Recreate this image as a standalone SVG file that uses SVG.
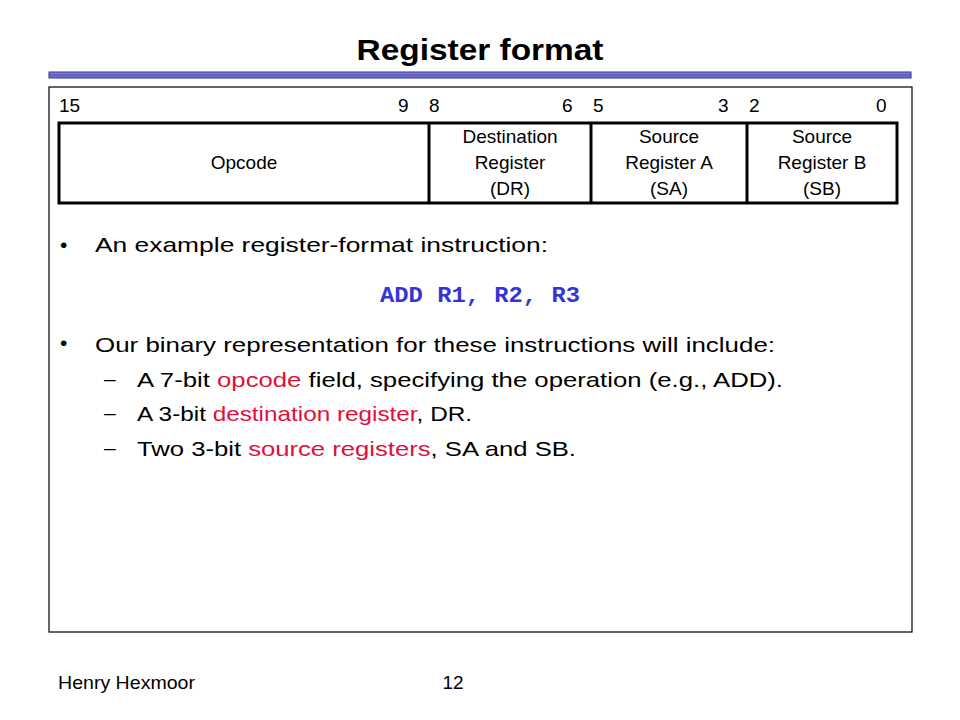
<svg xmlns="http://www.w3.org/2000/svg" width="960" height="720" viewBox="0 0 960 720">
<defs>
<linearGradient id="bar" x1="0" y1="0" x2="0" y2="1">
<stop offset="0" stop-color="#9a9ae6"/>
<stop offset="0.5" stop-color="#5555cc"/>
<stop offset="1" stop-color="#8585dc"/>
</linearGradient>
<style>
text{font-family:"Liberation Sans",Arial,sans-serif;fill:#000}
.title{font-size:30px;font-weight:bold}
.bit{font-size:19px}
.fld{font-size:19px;text-anchor:middle}
.body{font-size:21px}
.red{fill:#e0103a}
.code{font-family:"Liberation Mono","Courier New",monospace;font-size:22px;font-weight:bold;fill:#3535d5}
.foot{font-size:19px}
.box{fill:none;stroke:#000}
</style>
</defs>
<rect width="960" height="720" fill="#fff"/>
<g id="title">
<text class="title" x="480" y="60" text-anchor="middle" textLength="247" lengthAdjust="spacingAndGlyphs">Register format</text>
<rect x="49" y="72" width="862" height="6" fill="url(#bar)" stroke="#303080" stroke-width="1"/>
</g>
<rect id="frame" class="box" x="49" y="87" width="863" height="545" stroke-width="1.2"/>
<g id="bits">
<text class="bit" x="59" y="112">15</text>
<text class="bit" x="398" y="112">9</text>
<text class="bit" x="429" y="112">8</text>
<text class="bit" x="562" y="112">6</text>
<text class="bit" x="593" y="112">5</text>
<text class="bit" x="718" y="112">3</text>
<text class="bit" x="749" y="112">2</text>
<text class="bit" x="876" y="112">0</text>
</g>
<g id="fields">
<rect class="box" x="59" y="123" width="838" height="80" stroke-width="3"/>
<line x1="429" y1="123" x2="429" y2="203" stroke="#000" stroke-width="3"/>
<line x1="591" y1="123" x2="591" y2="203" stroke="#000" stroke-width="3"/>
<line x1="747" y1="123" x2="747" y2="203" stroke="#000" stroke-width="3"/>
</g>
<g id="opcode"><text class="fld" x="244" y="169">Opcode</text></g>
<g id="dr">
<text class="fld" x="510" y="143">Destination</text>
<text class="fld" x="510" y="169">Register</text>
<text class="fld" x="510" y="195">(DR)</text>
</g>
<g id="sa">
<text class="fld" x="669" y="143">Source</text>
<text class="fld" x="669" y="169">Register A</text>
<text class="fld" x="669" y="195">(SA)</text>
</g>
<g id="sb">
<text class="fld" x="822" y="143">Source</text>
<text class="fld" x="822" y="169">Register B</text>
<text class="fld" x="822" y="195">(SB)</text>
</g>
<g id="text">
<text class="body" x="60" y="252">•</text>
<text class="body" x="95" y="252" textLength="453" lengthAdjust="spacingAndGlyphs">An example register-format instruction:</text>
<text class="code" x="380" y="302" textLength="200" lengthAdjust="spacingAndGlyphs">ADD R1, R2, R3</text>
<text class="body" x="60" y="350">•</text>
<text class="body" x="95" y="352" textLength="680" lengthAdjust="spacingAndGlyphs">Our binary representation for these instructions will include:</text>
<text class="body" x="104" y="386">–</text>
<text class="body" x="137" y="387" textLength="646" lengthAdjust="spacingAndGlyphs">A 7-bit <tspan class="red">opcode</tspan> field, specifying the operation (e.g., ADD).</text>
<text class="body" x="104" y="420">–</text>
<text class="body" x="137" y="421" textLength="335" lengthAdjust="spacingAndGlyphs">A 3-bit <tspan class="red">destination register</tspan>, DR.</text>
<text class="body" x="104" y="455">–</text>
<text class="body" x="137" y="456" textLength="439" lengthAdjust="spacingAndGlyphs">Two 3-bit <tspan class="red">source registers</tspan>, SA and SB.</text>
</g>
<g id="footer">
<text class="foot" x="58" y="689" textLength="137" lengthAdjust="spacingAndGlyphs">Henry Hexmoor</text>
<text class="foot" x="453" y="689" text-anchor="middle">12</text>
</g>
</svg>
